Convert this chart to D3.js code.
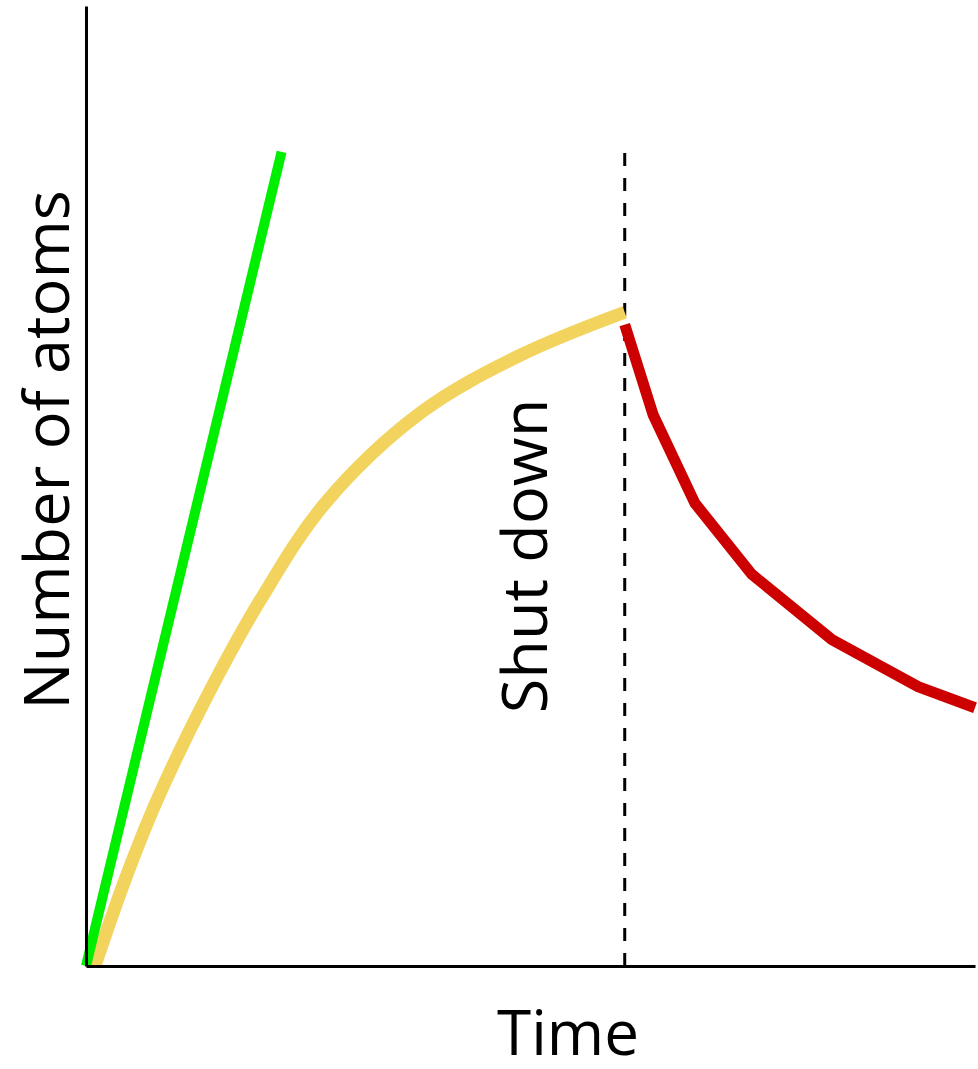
<!DOCTYPE html>
<html>
<head>
<meta charset="utf-8">
<script src="https://cdn.jsdelivr.net/npm/d3@7"></script>
<style>
  html, body { margin: 0; padding: 0; background: #fff; }
  svg { display: block; }
  text { font-family: "Open Sans", "Noto Sans", sans-serif; fill: #000; }
</style>
</head>
<body>
<script>
// Schematic: atoms build up while running, then decay after shut down.
// Time and count are in arbitrary units (0–100 on both axes).
const shutdownTime = 60.6;

// Steady linear production (no decay)
const productionT = [0, 22];
const productionN = [0, 84.8];

// Build-up towards equilibrium while the reactor runs
const buildupT = [1.0, 4.4, 8.0, 13.4, 19.6, 26.9, 37.6, 48.8, 60.6];
const buildupN = [0.0, 9.0, 17.3, 27.7, 38.1, 48.2, 57.6, 63.6, 68.1];

// Decay after shut down
const decayT = [60.6, 63.8, 68.5, 74.9, 83.9, 93.6, 100];
const decayN = [66.8, 57.4, 48.2, 40.8, 34.0, 29.1, 26.9];

const W = 978, H = 1069;
const margin = { left: 86, right: 3, top: 6, bottom: 103 };

const svg = d3.select("body").append("svg")
  .attr("width", W).attr("height", H);

const x = d3.scaleLinear().domain([0, 100]).range([margin.left, W - margin.right]);
const y = d3.scaleLinear().domain([0, 100]).range([H - margin.bottom, margin.top]);

const zip = (ts, ns) => ts.map((t, i) => ({ t, n: ns[i] }));

// Shut-down marker
svg.append("line")
  .attr("x1", x(shutdownTime)).attr("x2", x(shutdownTime))
  .attr("y1", y(0)).attr("y2", y(85))
  .attr("stroke", "#000").attr("stroke-width", 3)
  .attr("stroke-dasharray", "13 12");

const lineStraight = d3.line().x(d => x(d.t)).y(d => y(d.n));
const lineSmooth = d3.line().x(d => x(d.t)).y(d => y(d.n)).curve(d3.curveCatmullRom.alpha(0.5));

svg.append("path")
  .datum(zip(buildupT, buildupN))
  .attr("d", lineSmooth)
  .attr("fill", "none").attr("stroke", "#f2d35e")
  .attr("stroke-width", 13).attr("stroke-linejoin", "round");

svg.append("path")
  .datum(zip(decayT, decayN))
  .attr("d", lineStraight)
  .attr("fill", "none").attr("stroke", "#cc0000")
  .attr("stroke-width", 11).attr("stroke-linejoin", "miter");

svg.append("path")
  .datum(zip(productionT, productionN))
  .attr("d", lineStraight)
  .attr("fill", "none").attr("stroke", "#00ee00")
  .attr("stroke-width", 10);

// Axes (plain lines, no ticks)
const xAxis = d3.axisBottom(x).tickValues([]).tickSizeOuter(0);
const yAxis = d3.axisLeft(y).tickValues([]).tickSizeOuter(0);
svg.append("g").attr("transform", `translate(0,${y(0)})`).call(xAxis)
  .select(".domain").attr("stroke-width", 3).attr("stroke", "#000");
svg.append("g").attr("transform", `translate(${x(0)},0)`).call(yAxis)
  .select(".domain").attr("stroke-width", 3).attr("stroke", "#000");

// Labels
svg.append("text")
  .attr("x", 568).attr("y", 1055)
  .attr("text-anchor", "middle")
  .attr("font-size", 62)
  .text("Time");

svg.append("text")
  .attr("transform", "translate(69,450) rotate(-90)")
  .attr("text-anchor", "middle")
  .attr("font-size", 63)
  .text("Number of atoms");

svg.append("text")
  .attr("transform", "translate(547,556) rotate(-90)")
  .attr("text-anchor", "middle")
  .attr("font-size", 63)
  .text("Shut down");
</script>
</body>
</html>
